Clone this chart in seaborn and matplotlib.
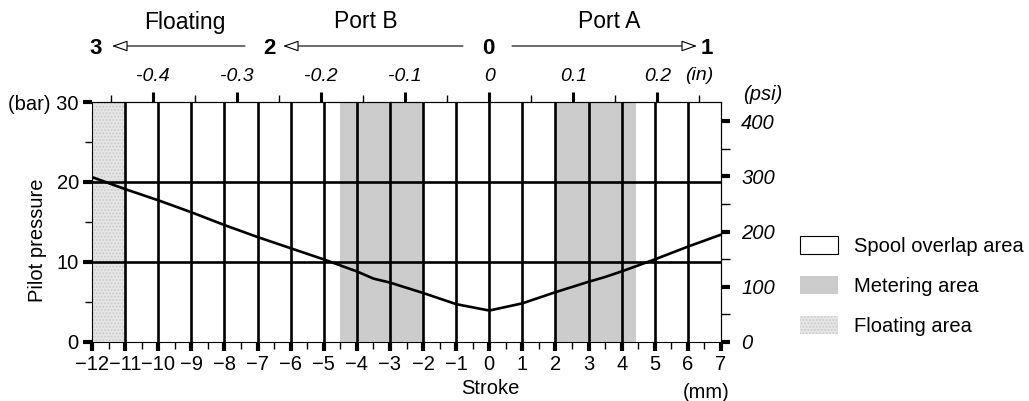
import matplotlib
matplotlib.use('Agg')
import matplotlib.pyplot as plt
import seaborn as sns
import numpy as np
import pandas as pd
from matplotlib.patches import Patch, FancyArrowPatch
from matplotlib.ticker import MultipleLocator, FixedLocator

# curve
stroke_mm = [-12, -11, -10, -9, -8, -7, -6, -5, -4, -3.5, -3, -2, -1, 0,
             1, 2, 3, 3.5, 4, 5, 6, 7]
pilot_bar = [20.6, 19.1, 17.7, 16.2, 14.6, 13.1, 11.7, 10.3, 8.8, 7.9, 7.4, 6.1, 4.7, 3.9,
             4.8, 6.2, 7.5, 8.1, 8.8, 10.3, 11.9, 13.4]

metering_zones = [(-4.5, -2.0), (2.0, 4.43)]
floating_zone = (-12.0, -11.0)
grid_mm = list(range(-11, 7))
grid_bar = [10, 20]

bar_ticks = [0, 10, 20, 30]
bar_labels = ['0', '10', '20', '(bar) 30']
psi_ticks = [0, 100, 200, 300, 400]
inch_ticks = [-0.4, -0.3, -0.2, -0.1, 0, 0.1, 0.2]
inch_labels = ['-0.4', '-0.3', '-0.2', '-0.1', '0', '0.1', '0.2']

legend_labels = ['Spool overlap area', 'Metering area', 'Floating area']
port_names = ['Floating', 'Port B', 'Port A']
port_numbers = ['3', '2', '0', '1']

sns.set_theme(style='white')
plt.rcParams['font.family'] = ['Liberation Sans', 'DejaVu Sans']
plt.rcParams['axes.edgecolor'] = 'black'
plt.rcParams['xtick.color'] = 'black'
plt.rcParams['ytick.color'] = 'black'
plt.rcParams['text.color'] = 'black'
plt.rcParams['axes.labelcolor'] = 'black'

W, H = 1029, 401
fig = plt.figure(figsize=(W / 100, H / 100), dpi=100)
ax = fig.add_axes([92 / W, 59.3 / H, 629 / W, 239.7 / H])

def fx(px):
    return px / W

def fy(py):
    return (H - py) / H

# shaded zones
ax.axvspan(*floating_zone, facecolor='#e6e6e6', edgecolor='#cdcdcd', hatch='.....', lw=0, zorder=0)
for a, b in metering_zones:
    ax.axvspan(a, b, facecolor='#cccccc', lw=0, zorder=0)

for x in grid_mm:
    ax.axvline(x, color='black', lw=1.9, zorder=1)
for y in grid_bar:
    ax.axhline(y, color='black', lw=1.9, zorder=1)

df = pd.DataFrame({'stroke': stroke_mm, 'pressure': pilot_bar})
sns.lineplot(data=df, x='stroke', y='pressure', color='black', lw=1.9, ax=ax, zorder=3)

ax.set_xlim(-12, 7)
ax.set_ylim(0, 30)
for s in ax.spines.values():
    s.set_linewidth(0.8)

ax.set_xticks(range(-12, 8))
ax.xaxis.set_minor_locator(MultipleLocator(0.5))
ax.set_yticks(bar_ticks, bar_labels)
ax.yaxis.set_minor_locator(MultipleLocator(5))
ax.tick_params(axis='both', which='major', direction='out', length=6.5, width=3, labelsize=14.5, pad=3)
ax.tick_params(axis='both', which='minor', direction='out', length=5, width=1)
ax.tick_params(axis='x', which='both', bottom=True)
ax.tick_params(axis='y', which='both', left=True)

ax.set_xlabel('Stroke', fontsize=14.5)
ax.xaxis.set_label_coords((490 - 92) / 629, -0.155)
ax.set_ylabel('Pilot pressure', fontsize=14.5)
ax.yaxis.set_label_coords(-0.071, 0.424)

# psi on the right
secy = ax.secondary_yaxis('right', functions=(lambda b: b * 14.5038, lambda p: p / 14.5038))
secy.set_yticks(psi_ticks)
secy.yaxis.set_minor_locator(MultipleLocator(50))
secy.tick_params(which='major', direction='out', length=6.5, width=3, labelsize=14.5, pad=8)
secy.tick_params(which='minor', direction='out', length=6.5, width=1)
for t in secy.get_yticklabels():
    t.set_fontstyle('italic')
secy.spines['right'].set_linewidth(0.8)

# inches on top
secx = ax.secondary_xaxis('top', functions=(lambda m: m / 25.4, lambda i: i * 25.4))
secx.set_xticks(inch_ticks, inch_labels)
secx.xaxis.set_minor_locator(FixedLocator(np.arange(-0.45, 0.3, 0.1)))
secx.tick_params(which='major', direction='out', length=7, width=2.2, labelsize=14, pad=5)
secx.tick_params(which='minor', direction='out', length=5, width=1)
for t in secx.get_xticklabels():
    t.set_fontstyle('italic')
secx.spines['top'].set_linewidth(0.8)

fig.text(fx(699), fy(76), '(in)', fontsize=14, style='italic', ha='center', va='center')
fig.text(fx(763), fy(95), '(psi)', fontsize=14.5, style='italic', ha='center', va='center')
fig.text(fx(706), fy(392), '(mm)', fontsize=14.5, ha='center', va='center')

# port direction arrows
for name, cx in zip(port_names, [185, 366, 609]):
    fig.text(fx(cx), fy(22), name, fontsize=16.5, ha='center', va='center')
for num, cx in zip(port_numbers, [95.5, 269, 488, 707]):
    fig.text(fx(cx), fy(48), num, fontsize=16, fontweight='bold', ha='center', va='center')
for x0, x1 in [(245, 112), (463, 283), (512, 697)]:
    arr = FancyArrowPatch((fx(x0), fy(46)), (fx(x1), fy(46)), transform=fig.transFigure,
                          arrowstyle='-|>,head_length=0.8,head_width=0.28', mutation_scale=12,
                          fc='white', ec='black', lw=0.8, shrinkA=0, shrinkB=0)
    fig.add_artist(arr)

handles = [Patch(facecolor='white', edgecolor='black', lw=0.8),
           Patch(facecolor='#cccccc', edgecolor='none'),
           Patch(facecolor='#e6e6e6', edgecolor='#cdcdcd', hatch='.....', lw=0)]
fig.legend(handles, legend_labels, loc='upper left', bbox_to_anchor=(fx(800), fy(236)),
           frameon=False, fontsize=14.5, handlelength=1.9, handleheight=1.0,
           handletextpad=0.8, labelspacing=1.0, borderpad=0, borderaxespad=0)

fig.savefig('out.png', dpi=100)
